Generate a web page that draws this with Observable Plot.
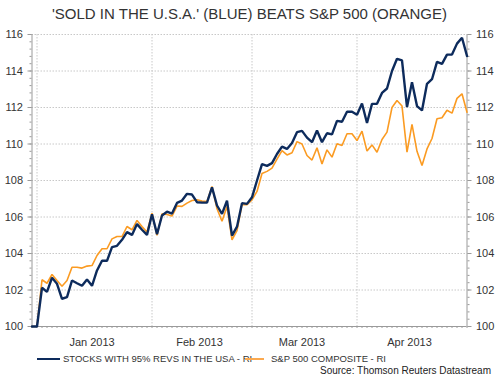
<!DOCTYPE html>
<html><head><meta charset="utf-8">
<script src="https://cdn.jsdelivr.net/npm/d3@7"></script>
<script src="https://cdn.jsdelivr.net/npm/@observablehq/plot@0.6"></script>
<style>
body{margin:0;background:#fff;font-family:"Liberation Sans",Arial,sans-serif;}
#wrap{position:relative;width:499px;height:376px;overflow:hidden;background:#fff;}
#chart{position:absolute;left:0;top:0;}
#title{position:absolute;left:0;top:5px;width:499px;text-align:center;font-size:15px;color:#333;white-space:nowrap;}
.leg{position:absolute;top:353px;font-size:9.5px;color:#333;white-space:nowrap;display:flex;align-items:center;}
.sw{display:inline-block;width:23px;margin-right:3px;}
#src{position:absolute;right:8px;top:365px;font-size:10px;color:#222;white-space:nowrap;}
</style></head>
<body>
<div id="wrap">
<div id="chart"></div>
<div id="title">'SOLD IN THE U.S.A.' (BLUE) BEATS S&amp;P 500 (ORANGE)</div>
<div class="leg" id="leg1" style="left:37px"><span class="sw" style="border-top:2.5px solid #0d2b5c"></span><span>STOCKS WITH 95% REVS IN THE USA - RI</span></div>
<div class="leg" id="leg2" style="left:245px"><span class="sw" style="border-top:2px solid #fba94f;width:19px;margin-right:7px"></span><span>S&amp;P 500 COMPOSITE - RI</span></div>
<div id="src">Source: Thomson Reuters Datastream</div>
</div>
<script>
// weekday index 0 = 31 Dec 2012 ... 87 = 1 May 2013
const usaStocks = [100,100,102.12,101.9,102.67,102.34,101.52,101.61,102.52,102.37,
102.23,102.58,102.23,103.07,103.6,103.6,104.35,104.42,104.75,105.17,
105.02,105.61,105.3,105.02,106.15,105.06,106.08,106.29,106.19,106.77,
106.9,107.27,107.23,106.81,106.79,106.79,107.62,106.63,106.17,106.9,
104.98,105.47,106.76,106.72,107.08,108.0,108.9,108.8,108.95,109.45,
109.86,109.73,110.05,110.65,110.72,110.35,110.1,110.74,110.1,110.59,
110.53,111.27,111.22,111.77,111.77,111.6,112.22,111.15,112.2,112.2,
112.8,113.04,114.0,114.67,114.58,112.02,113.39,112.08,111.84,113.3,
113.55,114.5,114.39,114.9,114.9,115.5,115.82,114.82];
const sp500 = [100,100,102.56,102.37,102.85,102.52,102.21,102.52,103.25,103.25,
103.2,103.31,103.34,103.89,104.26,104.26,104.8,104.93,104.93,105.48,
105.3,105.81,105.48,105.17,106.21,104.99,106.17,106.14,106.05,106.6,
106.58,106.76,106.9,106.94,106.87,106.85,107.67,106.45,105.77,106.58,
104.75,105.26,106.68,106.68,106.94,107.4,108.38,108.5,108.68,109.17,
109.64,109.4,109.52,110.13,110.0,109.37,109.12,109.79,108.91,109.68,
109.28,110.01,109.92,110.56,110.56,110.19,110.7,109.61,109.95,109.55,
110.25,110.65,112.0,112.38,112.08,109.55,111.08,109.6,108.82,109.73,
110.3,111.38,111.44,111.85,111.69,112.5,112.75,111.74];
const monthStarts = [1, 24, 44, 65];        // first weekday of Jan, Feb, Mar, Apr
const monthLabels = ["Jan 2013","Feb 2013","Mar 2013","Apr 2013"];
const monthMids = [12, 33.5, 54, 75.5];
const yTicks = [100,102,104,106,108,110,112,114,116];

const days = d3.range(usaStocks.length);
const blueData = days.map(i => ({i, v: usaStocks[i]}));
const orangeData = days.map(i => ({i, v: sp500[i]}));
const yMinor = d3.range(100, 116.001, 0.4).map(v => +v.toFixed(2));
const xMinor = d3.range(0, 88, 1);
const labelOf = new Map(monthMids.map((m, k) => [m, monthLabels[k]]));
const grid = "#c8c8c8", axisC = "#9a9a9a", txt = "#333";

const chart = Plot.plot({
  width: 499, height: 376,
  marginLeft: 31.5, marginRight: 32.5, marginTop: 34, marginBottom: 50,
  x: {domain: [0, 87], label: null},
  y: {domain: [100, 116], label: null},
  style: {fontFamily: "Liberation Sans, Arial, sans-serif", fontSize: "11px", color: txt, background: "#fff"},
  marks: [
    Plot.ruleY(yTicks.slice(1), {stroke: grid, strokeDasharray: "1.5,1.5", strokeWidth: 1}),
    Plot.ruleX(monthStarts, {stroke: grid, strokeDasharray: "1.5,1.5", strokeWidth: 1}),
    Plot.ruleY([100], {stroke: axisC, strokeWidth: 1}),
    Plot.ruleX([0], {stroke: axisC}),
    Plot.ruleX([87], {stroke: axisC}),
    Plot.axisY(yMinor, {anchor: "left", tickSize: 2, tickFormat: () => "", stroke: axisC, label: null}),
    Plot.axisY(yMinor, {anchor: "right", tickSize: 2, tickFormat: () => "", stroke: axisC, label: null}),
    Plot.axisY(yTicks, {anchor: "left", tickSize: 4, tickPadding: 5, stroke: axisC, fill: txt, fontSize: 11, label: null}),
    Plot.axisY(yTicks, {anchor: "right", tickSize: 4, tickPadding: 5, stroke: axisC, fill: txt, fontSize: 11, label: null}),
    Plot.axisX(xMinor, {anchor: "bottom", tickSize: 2, tickFormat: () => "", stroke: axisC, label: null}),
    Plot.axisX(monthMids, {anchor: "bottom", tickSize: 0, tickPadding: 12, tickFormat: d => labelOf.get(d), fill: txt, fontSize: 11, label: null}),
    Plot.line(orangeData, {x: "i", y: "v", stroke: "#fb9b22", strokeWidth: 1.6, strokeLinejoin: "miter"}),
    Plot.line(blueData, {x: "i", y: "v", stroke: "#0d2b5c", strokeWidth: 2.4, strokeLinejoin: "miter"})
  ]
});
document.getElementById("chart").appendChild(chart);
</script>
</body></html>
